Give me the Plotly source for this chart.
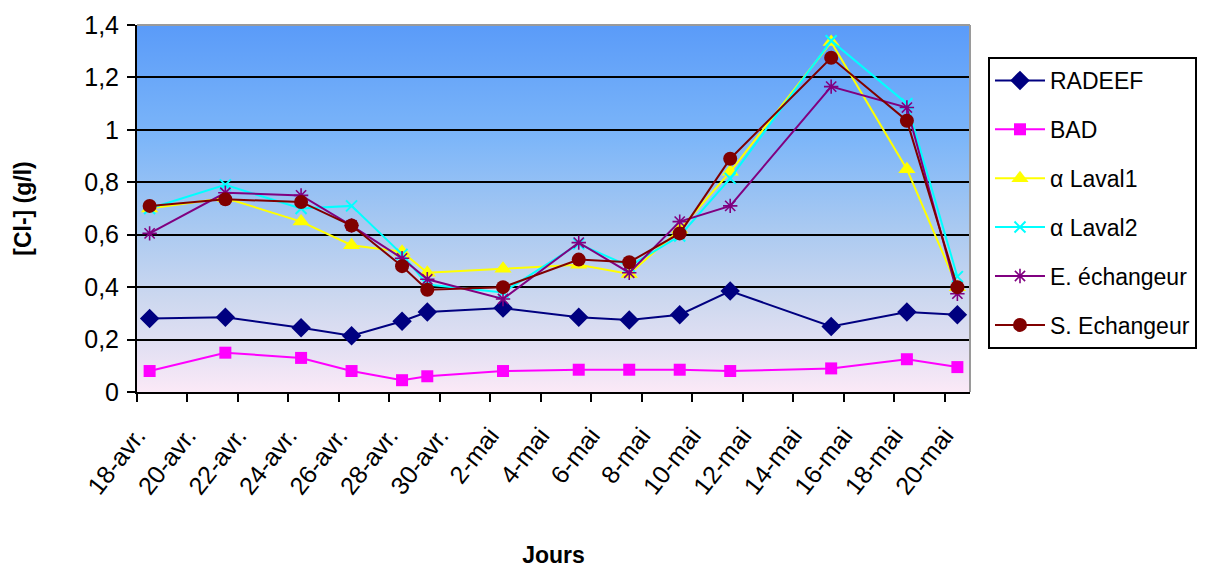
import base64
import pandas as pd
import plotly.graph_objects as go

# Sampling dates (year not shown on the axis)
dates = ["2008-04-18", "2008-04-21", "2008-04-24", "2008-04-26", "2008-04-28",
         "2008-04-29", "2008-05-02", "2008-05-05", "2008-05-07", "2008-05-09",
         "2008-05-11", "2008-05-15", "2008-05-18", "2008-05-20"]

# Chloride concentration [Cl-] in g/l
radeef = [0.28, 0.285, 0.245, 0.215, 0.27, 0.305, 0.32, 0.285, 0.275, 0.295, 0.385, 0.25, 0.305, 0.295]
bad = [0.08, 0.15, 0.13, 0.08, 0.045, 0.06, 0.08, 0.085, 0.085, 0.085, 0.08, 0.09, 0.125, 0.095]
laval1 = [0.70, 0.74, 0.65, 0.56, 0.535, 0.455, 0.47, 0.485, 0.45, 0.62, 0.84, 1.335, 0.85, 0.40]
laval2 = [0.70, 0.79, 0.70, 0.71, 0.525, 0.41, 0.38, 0.565, 0.48, 0.595, 0.815, 1.34, 1.10, 0.44]
e_echangeur = [0.605, 0.76, 0.75, 0.635, 0.51, 0.43, 0.355, 0.57, 0.455, 0.65, 0.71, 1.165, 1.085, 0.375]
s_echangeur = [0.71, 0.735, 0.725, 0.635, 0.48, 0.39, 0.40, 0.505, 0.495, 0.605, 0.89, 1.275, 1.035, 0.40]

# Axis tick dates and their French labels
tick_dates = pd.date_range("2008-04-18", "2008-05-20", freq="2D")
tick_labels = ["18-avr.", "20-avr.", "22-avr.", "24-avr.", "26-avr.", "28-avr.", "30-avr.",
               "2-mai", "4-mai", "6-mai", "8-mai", "10-mai", "12-mai", "14-mai",
               "16-mai", "18-mai", "20-mai"]

series = [
    ("RADEEF", radeef, "#000080", "diamond", 15, 0),
    ("BAD", bad, "#FF00FF", "square", 12, 0),
    ("\u03b1 Laval1", laval1, "#FFFF00", "triangle-up", 15, 0),
    ("\u03b1 Laval2", laval2, "#00FFFF", "x-thin-open", 11, 2),
    ("E. \u00e9changeur", e_echangeur, "#800080", "asterisk-open", 12, 1.6),
    ("S. Echangeur", s_echangeur, "#800000", "circle", 14, 0),
]

fig = go.Figure()
x = pd.to_datetime(dates)
for i, (name, vals, color, symbol, size, lw) in enumerate(series):
    marker = dict(symbol=symbol, size=size, color=color)
    if lw:
        marker["line"] = dict(color=color, width=lw)
    fig.add_trace(go.Scatter(
        x=x, y=vals, name=name, mode="lines+markers",
        line=dict(color=color, width=2), marker=marker,
        legendgroup=f"g{i}",
    ))

# Vertical gradient for the plot area background
svg = (
    '<svg xmlns="http://www.w3.org/2000/svg" width="100" height="100" preserveAspectRatio="none">'
    '<defs><linearGradient id="g" x1="0" y1="0" x2="0" y2="1">'
    '<stop offset="0" stop-color="#5a9bf9"/>'
    '<stop offset="0.3" stop-color="#7bb5f9"/>'
    '<stop offset="0.55" stop-color="#a9c9f1"/>'
    '<stop offset="0.75" stop-color="#cdd8ef"/>'
    '<stop offset="0.88" stop-color="#e3e0f3"/>'
    '<stop offset="1" stop-color="#fbe9f7"/>'
    '</linearGradient></defs>'
    '<rect width="100" height="100" fill="url(#g)"/></svg>'
)
bg_src = "data:image/svg+xml;base64," + base64.b64encode(svg.encode()).decode()

half_day = pd.Timedelta(hours=12)
x_range = [x[0] - half_day, x[-1] + half_day]
tickvals = [t - half_day for t in tick_dates]

font = "Liberation Sans, Arial, sans-serif"

fig.update_layout(
    width=1210, height=569,
    margin=dict(l=137, r=240, t=25, b=177, autoexpand=False),
    paper_bgcolor="white",
    plot_bgcolor="rgba(0,0,0,0)",
    separators=", ",
    font=dict(family=font, size=22, color="black"),
    showlegend=True,
    legend=dict(
        x=1.0216, y=0.913, xanchor="left", yanchor="top",
        bgcolor="white", bordercolor="black", borderwidth=2,
        font=dict(size=23, family=font), tracegroupgap=16, itemwidth=50,
        traceorder="grouped",
    ),
    images=[dict(source=bg_src, xref="paper", yref="paper", x=0, y=1,
                 sizex=1, sizey=1, sizing="stretch", layer="below",
                 xanchor="left", yanchor="top")],
    shapes=[
        dict(type="line", xref="paper", yref="paper", x0=0, x1=1, y0=1, y1=1,
             line=dict(color="#9a9a9a", width=2), layer="above"),
        dict(type="line", xref="paper", yref="paper", x0=1, x1=1, y0=0, y1=1,
             line=dict(color="#9a9a9a", width=2), layer="above"),
    ],
)

fig.update_xaxes(
    type="date", range=x_range, automargin=False,
    tickmode="array", tickvals=tickvals, ticktext=tick_labels,
    tickangle=-52, tickfont=dict(size=25), ticklabelstandoff=9,
    ticks="outside", ticklen=8, tickwidth=2, tickcolor="black",
    showline=True, linecolor="black", linewidth=2,
    showgrid=False, zeroline=False,
    title=dict(text="<b>Jours</b>", font=dict(size=23), standoff=48),
)
fig.update_yaxes(
    range=[0, 1.4], dtick=0.2, tick0=0, automargin=False,
    tickfont=dict(size=25), ticklabelstandoff=3,
    ticks="outside", ticklen=8, tickwidth=2, tickcolor="black",
    showline=True, linecolor="black", linewidth=2,
    showgrid=True, gridcolor="black", gridwidth=2,
    zeroline=False,
    title=dict(text="<b>[Cl-] (g/l)</b>", font=dict(size=23), standoff=46),
)

fig.write_html("out.html")
